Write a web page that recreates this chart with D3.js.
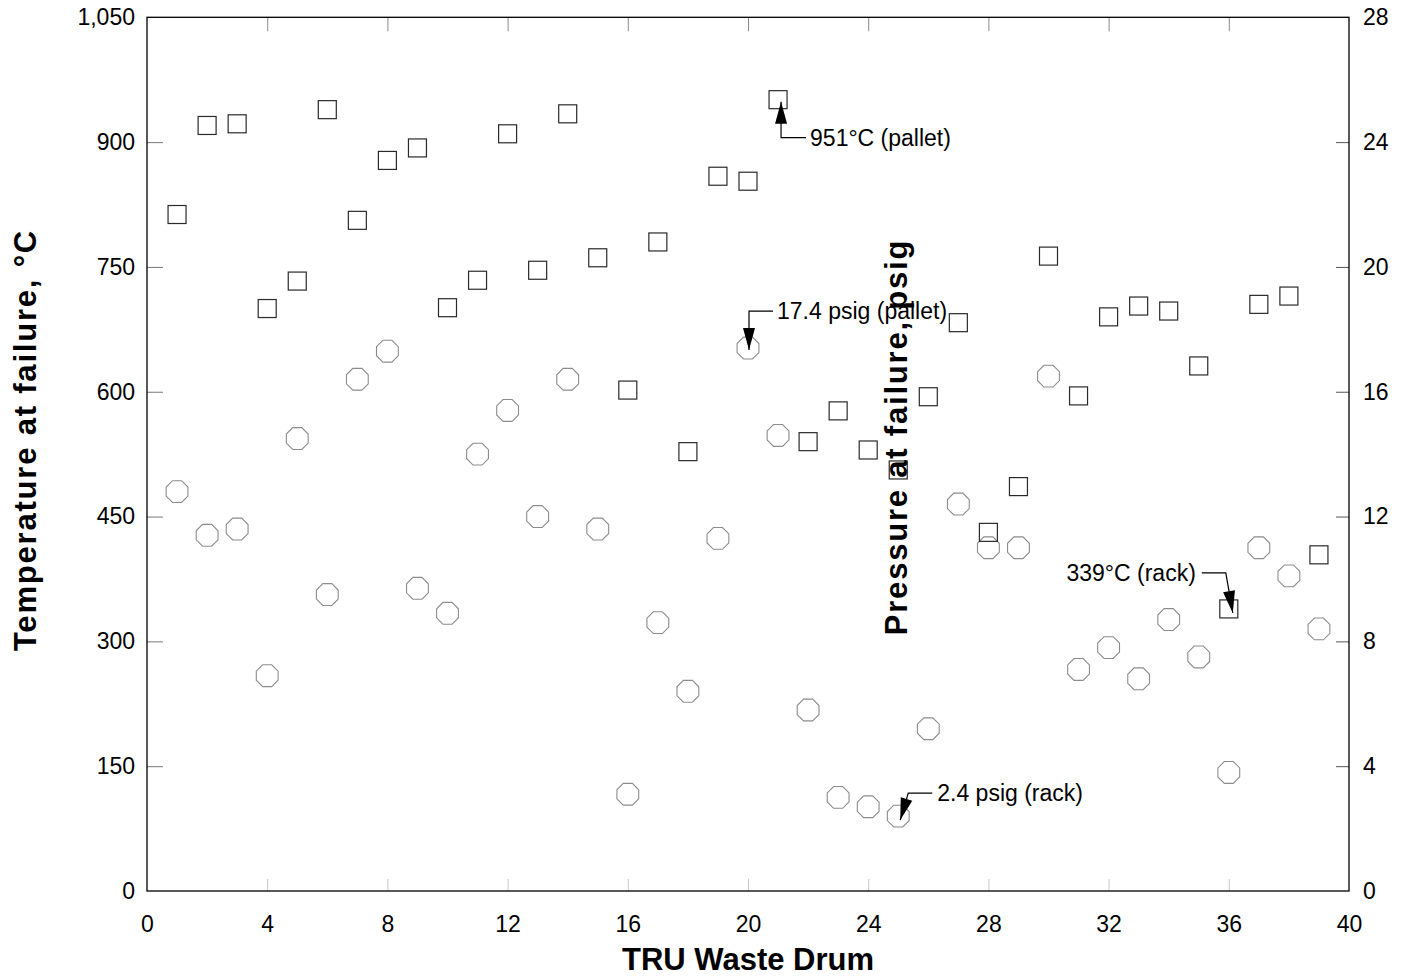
<!DOCTYPE html>
<html>
<head>
<meta charset="utf-8">
<script src="https://cdn.jsdelivr.net/npm/d3@7"></script>
<style>
  body { margin: 0; background: #fff; }
  svg { display: block; font-family: "Liberation Sans", Arial, sans-serif; }
  .tick text { font-size: 23px; fill: #000; }
  .title { font-weight: bold; font-size: 31px; fill: #000; }
  .note { font-size: 23px; fill: #000; }
</style>
</head>
<body>
<svg id="chart" width="1401" height="977"></svg>
<script>
// drum number, temperature at failure (°C) and pressure at failure (psig)
var drums = d3.range(1, 40);
var temperature = [813, 920, 922, 700, 733, 939, 806, 878, 893, 701,
                   734, 910, 746, 934, 761, 602, 780, 528, 859, 853,
                   951, 540, 577, 530, 506, 594, 683, 431, 486, 763,
                   595, 690, 703, 697, 631, 339, 705, 715, 404];
var pressure = [12.8, 11.4, 11.6, 6.9, 14.5, 9.5, 16.4, 17.3, 9.7, 8.9,
                14.0, 15.4, 12.0, 16.4, 11.6, 3.1, 8.6, 6.4, 11.3, 17.4,
                14.6, 5.8, 3.0, 2.7, 2.4, 5.2, 12.4, 11.0, 11.0, 16.5,
                7.1, 7.8, 6.8, 8.7, 7.5, 3.8, 11.0, 10.1, 8.4];
var xTicks = [0, 4, 8, 12, 16, 20, 24, 28, 32, 36, 40];
var tempTicks = [0, 150, 300, 450, 600, 750, 900, 1050];
var presTicks = [0, 4, 8, 12, 16, 20, 24, 28];

// callouts
var notes = [
  {drum: 21, series: "T", value: 951, label: "951°C (pallet)"},
  {drum: 20, series: "P", value: 17.4, label: "17.4 psig (pallet)"},
  {drum: 25, series: "P", value: 2.4, label: "2.4 psig (rack)"},
  {drum: 36, series: "T", value: 339, label: "339°C (rack)"}
];

var svg = d3.select("#chart");
var pLeft = 147, pRight = 1349, pTop = 17.3, pBottom = 891;

var x = d3.scaleLinear().domain([0, 40]).range([pLeft, pRight]);
var yT = d3.scaleLinear().domain([0, 1050]).range([pBottom, pTop]);
var yP = d3.scaleLinear().domain([0, 28]).range([pBottom, pTop]);

// axes, ticks pointing inward
var gB = svg.append("g").attr("transform", "translate(0," + pBottom + ")")
  .call(d3.axisBottom(x).tickValues(xTicks).tickSize(-12).tickPadding(25));
gB.selectAll(".tick line").attr("stroke", "#c8c8c8");

var gTop = svg.append("g").attr("transform", "translate(0," + pTop + ")")
  .call(d3.axisTop(x).tickValues(xTicks).tickSize(-14).tickFormat(""));
gTop.selectAll(".tick line").attr("stroke", "#8a8a8a");

var gL = svg.append("g").attr("transform", "translate(" + pLeft + ",0)")
  .call(d3.axisLeft(yT).tickValues(tempTicks).tickSize(-16).tickPadding(12).tickFormat(d3.format(",")));
gL.selectAll(".tick line").attr("stroke", "#777");

var gR = svg.append("g").attr("transform", "translate(" + pRight + ",0)")
  .call(d3.axisRight(yP).tickValues(presTicks).tickSize(-13).tickPadding(14));
gR.selectAll(".tick line").attr("stroke", "#555");

svg.selectAll(".domain").remove();
svg.selectAll(".tick text").attr("font-family", null).attr("font-size", null);
gTop.selectAll(".tick").filter(function(d) { return d == 0 || d == 40; }).remove();
gB.selectAll(".tick line").filter(function(d) { return d == 0 || d == 40; }).remove();
gL.selectAll(".tick line").filter(function(d) { return d == 0 || d == 1050; }).remove();
gR.selectAll(".tick line").filter(function(d) { return d == 0 || d == 28; }).remove();

// frame
svg.append("rect")
  .attr("x", pLeft).attr("y", pTop)
  .attr("width", pRight - pLeft).attr("height", pBottom - pTop)
  .attr("fill", "none").attr("stroke", "#000").attr("stroke-width", 1.3);

// pressure: hollow octagons
var R = 11.8;
var octagon = d3.range(8).map(function(k) {
  var a = Math.PI / 8 + k * Math.PI / 4;
  return [R * Math.cos(a), R * Math.sin(a)];
});
var octPath = "M" + octagon.join("L") + "Z";

svg.append("g").selectAll("path")
  .data(drums)
  .enter().append("path")
  .attr("d", octPath)
  .attr("transform", function(d, i) { return "translate(" + x(d) + "," + yP(pressure[i]) + ")"; })
  .attr("fill", "none")
  .attr("stroke", "#8c8c8c")
  .attr("stroke-width", 1.1);

// temperature: hollow squares
var S = 18;
svg.append("g").selectAll("rect")
  .data(drums)
  .enter().append("rect")
  .attr("x", function(d) { return x(d) - S / 2; })
  .attr("y", function(d, i) { return yT(temperature[i]) - S / 2; })
  .attr("width", S).attr("height", S)
  .attr("fill", "none")
  .attr("stroke", "#2a2a2a")
  .attr("stroke-width", 1.2);

// callouts: leader line + arrow head
function arrowHead(tip, from, len, wid) {
  var dx = tip[0] - from[0], dy = tip[1] - from[1];
  var l = Math.sqrt(dx * dx + dy * dy);
  var ux = dx / l, uy = dy / l;
  var bx = tip[0] - ux * len, by = tip[1] - uy * len;
  return "M" + tip + "L" + [bx - uy * wid / 2, by + ux * wid / 2] +
         "L" + [bx + uy * wid / 2, by - ux * wid / 2] + "Z";
}

var ann = svg.append("g");
notes.forEach(function(n) {
  var px = x(n.drum);
  var py = n.series == "T" ? yT(n.value) : yP(n.value);
  var tip, elbow, end, tx, anchor;
  if (n.drum == 21) {
    tip = [px + 3, py + 2]; elbow = [px + 3, py + 38]; end = [px + 28, py + 38];
    tx = px + 32; anchor = "start";
  } else if (n.drum == 20) {
    tip = [px + 1, py + 2]; elbow = [px + 1, py - 37]; end = [px + 25, py - 37];
    tx = px + 29; anchor = "start";
  } else if (n.drum == 25) {
    tip = [px + 2, py + 4]; elbow = [px + 10, py - 23]; end = [px + 34, py - 23];
    tx = px + 39; anchor = "start";
  } else {
    tip = [px + 4, py + 4]; elbow = [px - 3, py - 36]; end = [px - 27, py - 36];
    tx = px - 33; anchor = "end";
  }
  ann.append("path")
    .attr("d", "M" + end + "L" + elbow + "L" + tip)
    .attr("fill", "none").attr("stroke", "#000").attr("stroke-width", 1.2);
  ann.append("path")
    .attr("d", arrowHead(tip, elbow, 22, 12))
    .attr("fill", "#000");
  ann.append("text")
    .attr("class", "note")
    .attr("x", tx).attr("y", end[1])
    .attr("dy", "0.35em")
    .attr("text-anchor", anchor)
    .text(n.label);
});

// axis titles
svg.append("text")
  .attr("class", "title")
  .attr("text-anchor", "middle")
  .attr("x", (pLeft + pRight) / 2).attr("y", 970)
  .text("TRU Waste Drum");

svg.append("text")
  .attr("class", "title")
  .attr("text-anchor", "middle")
  .attr("letter-spacing", "1.8px")
  .attr("transform", "translate(36,440) rotate(-90)")
  .text("Temperature at failure, °C");

svg.append("text")
  .attr("class", "title")
  .attr("text-anchor", "middle")
  .attr("letter-spacing", "1.8px")
  .attr("transform", "translate(907,437) rotate(-90)")
  .text("Pressure at failure, psig");
</script>
</body>
</html>
